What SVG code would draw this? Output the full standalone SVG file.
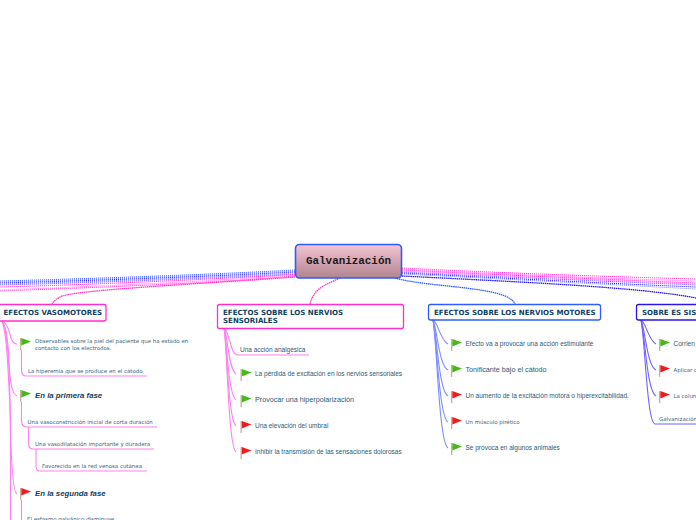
<svg xmlns="http://www.w3.org/2000/svg" width="696" height="520" viewBox="0 0 696 520">
<style>
text{font-family:"Liberation Sans",Arial,sans-serif;fill:#2b5a78}
.t{font-family:"DejaVu Sans",Verdana,sans-serif;font-weight:bold;font-size:7.05px;fill:#0e3f63}
.v{font-family:"DejaVu Sans",Verdana,sans-serif;font-size:5.45px;fill:#3a6582}
.a{font-size:6.5px}
.w{font-size:7.2px}
.i{font-weight:bold;font-style:italic;font-size:7.8px;fill:#123f63}
.box{fill:#fff;stroke-width:1.3}
.m{stroke:#ff2ecb}.b{stroke:#2e5cff}.d{stroke:#2a14e8}
.c{fill:none;stroke-width:1}
.dot{stroke-dasharray:1 1}
.s{stroke-width:1.300;stroke-dasharray:1.500 .6}
.pm{stroke:#ff80f0}.pb{stroke:#7d8cff}.pd{stroke:#7060ff}
.u{fill:none;stroke-width:1.100}
</style>
<defs>
<linearGradient id="g" x1="0" y1="0" x2="0" y2="1"><stop offset="0" stop-color="#f6c4d2"/><stop offset="1" stop-color="#b08490"/></linearGradient>
<g id="gf"><rect x="0" y="0" width="1.300" height="12" fill="#c9b09a"/><path d="M1.300 0L11 3.400 1.300 7.500Z" fill="#46b81a"/></g>
<g id="rf"><rect x="0" y="0" width="1.300" height="12" fill="#c9b09a"/><path d="M1.300 0L11 3.400 1.300 7.500Z" fill="#ee1c1c"/></g>
</defs>
<g id="connectors">
<g class="c dot">
<path class="b" d="M295 270C200 275 80 279 0 281"/>
<path class="pb" d="M295 271C200 276 80 280 0 282"/>
<path class="d" d="M295 272C200 277 80 281 0 283"/>
<path class="pb" d="M295 273C200 278 80 282 0 284"/>
<path class="pd" d="M295 274C200 279 80 283 0 285"/>
<path class="m" d="M295 274.500C200 280 80 285 0 287"/>
<path class="pm" d="M295 275C200 282 80 287 0 290"/>
<path class="m" d="M295 276C200 284 80 288 0 291"/>
<path class="m s" d="M295 277C200 284 70 290 60 297Q54 300 52 304"/>
<path class="m s" d="M340 278C325 285 314 288 310 304"/>
<path class="b s" d="M395 278C430 288 508 286 515 304"/>
<path class="m" d="M402 268C500 273 620 277 696 279"/>
<path class="pm" d="M402 269C500 274 620 279 696 281"/>
<path class="m" d="M402 270C500 275 620 280 696 283"/>
<path class="pm" d="M402 271C500 276 620 281 696 284"/>
<path class="pd" d="M402 272C500 277 620 282 696 285"/>
<path class="d" d="M402 273C500 278 620 284 696 287"/>
<path class="pb" d="M402 274C500 279 620 285 696 289"/>
<path class="d s" d="M402 276C520 282 640 287 696 298"/>
</g>
<g class="u">
<path class="pm" d="M2 321C7 323 9 330 11 338Q13 344 17 344"/>
<path class="pm" d="M2 321C6 325 8 340 9 360Q10 394 17 396"/>
<path class="pm" d="M2 321C6 327 9 350 10 400Q11 492 17 494"/>
<path class="pm" d="M2 321C6 330 8 360 10.500 420V520"/>
<path class="pm" d="M21.500 350V370Q21.500 376 26 376H147"/>
<path class="pm" d="M21.500 402V421Q21.500 427 27 427H157"/>
<path class="pm" d="M28.500 427V443Q28.500 449 33 449H154"/>
<path class="pm" d="M36 449V466Q36 471 40 471H147"/>
<path class="pm" d="M21.500 500V520"/>
<path class="pm" d="M224 328C228 330 230 345 233 351Q235 355 238 355H309"/>
<path class="pm" d="M224 328C228 335 228 368 236 374"/>
<path class="pm" d="M224 328C227 340 228 394 236 400"/>
<path class="pm" d="M224 328C227 340 228 420 236 426"/>
<path class="pm" d="M224 328C227 340 228 446 236 452"/>
<path class="pb" d="M433 320C438 322 440 340 448 344"/>
<path class="pb" d="M433 320C437 328 439 366 448 370"/>
<path class="pb" d="M433 320C437 335 439 392 448 396"/>
<path class="pb" d="M433 320C437 340 439 417 448 422"/>
<path class="pb" d="M433 320C437 345 439 443 448 448"/>
<path class="pd" d="M641 320C646 322 648 340 656 344"/>
<path class="pd" d="M641 320C645 328 647 366 656 370"/>
<path class="pd" d="M641 320C645 335 647 392 656 396"/>
<path class="pd" d="M641 320C645 340 647 423 655 424H696"/>
</g>
</g>
<g id="root"><rect x="295.500" y="244.500" width="106" height="33.500" rx="4" fill="url(#g)" stroke="#2e5cff" stroke-width="1.600"/><text x="348.500" y="264" text-anchor="middle" style="font-family:'Liberation Mono','DejaVu Sans Mono',monospace;font-weight:bold;font-size:10.9px;fill:#1a1a1a">Galvanización</text></g>
<g id="n1"><rect class="box m" x="-3" y="304.500" width="109" height="16.500" rx="2"/><text class="t" x="3.500" y="315">EFECTOS VASOMOTORES</text></g>
<g id="n1a"><use href="#gf" x="20" y="338"/><text class="v" x="35" y="343">Observables sobre la piel del paciente que ha estado en</text><text class="v" x="35" y="350">contacto con los electrodos.</text></g>
<g id="n1b"><text class="v" x="28" y="373">La hiperemia que se produce en el cátodo</text></g>
<g id="n1c"><use href="#gf" x="20" y="390"/><text class="i" x="35" y="398">En la primera fase</text></g>
<g id="n1d"><text class="v" x="27.500" y="424">Una vasoconstricción inicial de corta duración</text></g>
<g id="n1e"><text class="v" x="35" y="446">Una vasodilatación importante y duradera</text></g>
<g id="n1f"><text class="v" x="42" y="468">Favorecido en la red venosa cutánea</text></g>
<g id="n1g"><use href="#rf" x="20" y="488"/><text class="i" x="35" y="496">En la segunda fase</text></g>
<g id="n1h"><text class="v" x="27" y="521">El esfasmo galvánico disminuye</text></g>
<g id="n2"><rect class="box m" x="217.500" y="304.500" width="186" height="24" rx="2"/><text class="t" x="223" y="315">EFECTOS SOBRE LOS NERVIOS</text><text class="t" x="223" y="323">SENSORIALES</text></g>
<g id="n2a"><text class="a" x="240" y="352">Una acción analgésica</text></g>
<g id="n2b"><use href="#gf" x="240.500" y="369"/><text class="a" x="255" y="376">La pérdida de excitación en los nervios sensoriales</text></g>
<g id="n2c"><use href="#gf" x="240.500" y="395"/><text class="w" x="255" y="402">Provocar una hiperpolarización</text></g>
<g id="n2d"><use href="#rf" x="240.500" y="421"/><text class="a" x="255" y="428">Una elevación del umbral</text></g>
<g id="n2e"><use href="#rf" x="240.500" y="447"/><text class="a" x="255" y="454">Inhibir la transmisión de las sensaciones dolorosas</text></g>
<g id="n3"><rect class="box b" x="428.500" y="304.500" width="172" height="15.500" rx="2"/><text class="t" x="434" y="315">EFECTOS SOBRE LOS NERVIOS MOTORES</text></g>
<g id="n3a"><use href="#gf" x="451" y="339"/><text class="a" x="465.500" y="346">Efecto va a provocar una acción estimulante</text></g>
<g id="n3b"><use href="#gf" x="451" y="365"/><text class="w" x="465.500" y="372">Tonificante bajo el cátodo</text></g>
<g id="n3c"><use href="#rf" x="451" y="391"/><text class="a" x="465.500" y="398">Un aumento de la excitación motora o hiperexcitabilidad.</text></g>
<g id="n3d"><use href="#rf" x="451" y="417"/><text class="v" x="465.500" y="424">Un músculo pirético</text></g>
<g id="n3e"><use href="#gf" x="451" y="443"/><text class="a" x="465.500" y="450">Se provoca en algunos animales</text></g>
<g id="n4"><rect class="box d" x="636.500" y="304.500" width="70" height="15.500" rx="2"/><text class="t" x="642" y="315">SOBRE ES SIS</text></g>
<g id="n4a"><use href="#gf" x="659" y="339"/><text class="a" x="673.500" y="346">Corrien</text></g>
<g id="n4b"><use href="#rf" x="659" y="365"/><text class="v" x="673.500" y="372">Aplicar c</text></g>
<g id="n4c"><use href="#rf" x="659" y="391"/><text class="v" x="673.500" y="398">La colun</text></g>
<g id="n4d"><text class="v" x="659" y="421">Galvanización</text></g>
</svg>
